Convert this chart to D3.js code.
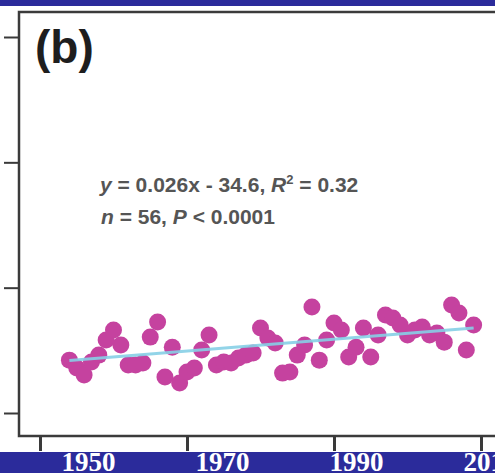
<!DOCTYPE html>
<html>
<head>
<meta charset="utf-8">
<script src="https://cdn.jsdelivr.net/npm/d3@7/dist/d3.min.js"></script>
<style>
  html, body { margin: 0; padding: 0; background: #fff; overflow: hidden; }
  svg { display: block; }
</style>
</head>
<body>
<div id="chart"></div>
<script>
// one point per year, 1954-2009
const years = d3.range(1954, 2010);
const values = [
  16.22, 15.87, 15.57, 16.14, 16.44, 17.10, 17.54, 16.88, 16.01, 16.01,
  16.09, 17.23, 17.89, 15.48, 16.79, 15.22, 15.70, 15.87, 16.66, 17.32,
  16.01, 16.14, 16.09, 16.31, 16.44, 16.53, 17.63, 17.19, 16.97, 15.65,
  15.70, 16.44, 16.88, 18.55, 16.22, 17.10, 17.85, 17.54, 16.36, 16.79,
  17.63, 16.36, 17.32, 18.20, 18.07, 17.76, 17.32, 17.54, 17.67, 17.32,
  17.41, 17.01, 18.64, 18.29, 16.66, 17.76
];
const xTicks = [1950, 1970, 1990, 2010];
const yTicks = [13.9, 19.4, 24.9, 30.4];
const fit = { slope: 0.026, intercept: -34.6 };

const width = 495, height = 473;
const band = '#2b2b9b';

const svg = d3.select('#chart').append('svg')
  .attr('width', width)
  .attr('height', height);

const defs = svg.append('defs');
defs.append('filter').attr('id', 'soft')
  .append('feGaussianBlur').attr('stdDeviation', 0.7);

const x = d3.scaleLinear().domain([1950, 2010]).range([40, 481]);
const y = d3.scaleLinear().domain([13.9, 30.4]).range([413, 37]);
// the year labels sit a little off the tick marks in the original
const xLabel = d3.scaleLinear().domain([1950, 2010]).range([88, 490]);

// blue bands top and bottom
svg.append('rect').attr('x', 0).attr('y', 0).attr('width', width).attr('height', 6).attr('fill', band);
svg.append('rect').attr('x', 0).attr('y', 452).attr('width', width).attr('height', height - 452).attr('fill', band);

// frame
svg.append('path')
  .attr('d', `M${width},12H19V436H${width}`)
  .attr('fill', 'none')
  .attr('stroke', '#3a3a3a')
  .attr('stroke-width', 2.5)
  .attr('filter', 'url(#soft)');

// y ticks (no labels)
const yAxis = svg.append('g')
  .attr('transform', 'translate(19,0)')
  .call(d3.axisLeft(y).tickValues(yTicks).tickSize(15).tickFormat(''));
yAxis.select('.domain').remove();
yAxis.selectAll('line').attr('stroke', '#3a3a3a').attr('stroke-width', 2);

// x ticks
const xAxis = svg.append('g')
  .attr('transform', 'translate(0,436)')
  .call(d3.axisBottom(x).tickValues(xTicks).tickSize(15).tickFormat(''));
xAxis.select('.domain').remove();
xAxis.selectAll('line').attr('stroke', '#3a3a3a').attr('stroke-width', 3);

// year labels in the bottom band
const labAxis = svg.append('g')
  .attr('transform', 'translate(0,471)')
  .call(d3.axisBottom(xLabel).tickValues(xTicks).tickSize(0).tickFormat(d3.format('d')));
labAxis.select('.domain').remove();
labAxis.selectAll('text')
  .attr('y', 0)
  .attr('dy', 0)
  .attr('fill', '#fff')
  .style('font-family', '"Liberation Serif", "Times New Roman", serif')
  .style('font-weight', 'bold')
  .style('font-size', '27px');

// points
svg.append('g')
  .attr('filter', 'url(#soft)')
  .selectAll('circle')
  .data(years.map((yr, i) => ({ yr, v: values[i] })))
  .join('circle')
  .attr('cx', d => x(d.yr))
  .attr('cy', d => y(d.v))
  .attr('r', 8.5)
  .attr('fill', '#c5439f');

// regression line
const fitLine = d3.line()
  .x(d => x(d))
  .y(d => y(fit.slope * d + fit.intercept));
svg.append('path')
  .datum([years[0], years[years.length - 1]])
  .attr('d', fitLine)
  .attr('fill', 'none')
  .attr('stroke', '#86cfe6')
  .attr('stroke-width', 3)
  .attr('opacity', 0.9);

// panel label
svg.append('text')
  .attr('x', 35)
  .attr('y', 63)
  .attr('fill', '#1e1e1e')
  .style('font-family', '"Liberation Sans", Arial, sans-serif')
  .style('font-weight', 'bold')
  .style('font-size', '46px')
  .text('(b)');

// equation
const eq = svg.append('g')
  .attr('fill', '#555')
  .style('font-family', '"Liberation Sans", Arial, sans-serif')
  .style('font-weight', 'bold')
  .style('font-size', '21px');

const l1 = eq.append('text').attr('x', 100).attr('y', 192);
l1.append('tspan').style('font-style', 'italic').text('y');
l1.append('tspan').text(' = 0.026x - 34.6, ');
l1.append('tspan').style('font-style', 'italic').text('R');
l1.append('tspan').attr('dy', -8).style('font-size', '13px').text('2');
l1.append('tspan').attr('dy', 8).text(' = 0.32');

const l2 = eq.append('text').attr('x', 101).attr('y', 224);
l2.append('tspan').style('font-style', 'italic').text('n');
l2.append('tspan').text(' = 56, ');
l2.append('tspan').style('font-style', 'italic').text('P');
l2.append('tspan').text(' < 0.0001');
</script>
</body>
</html>
